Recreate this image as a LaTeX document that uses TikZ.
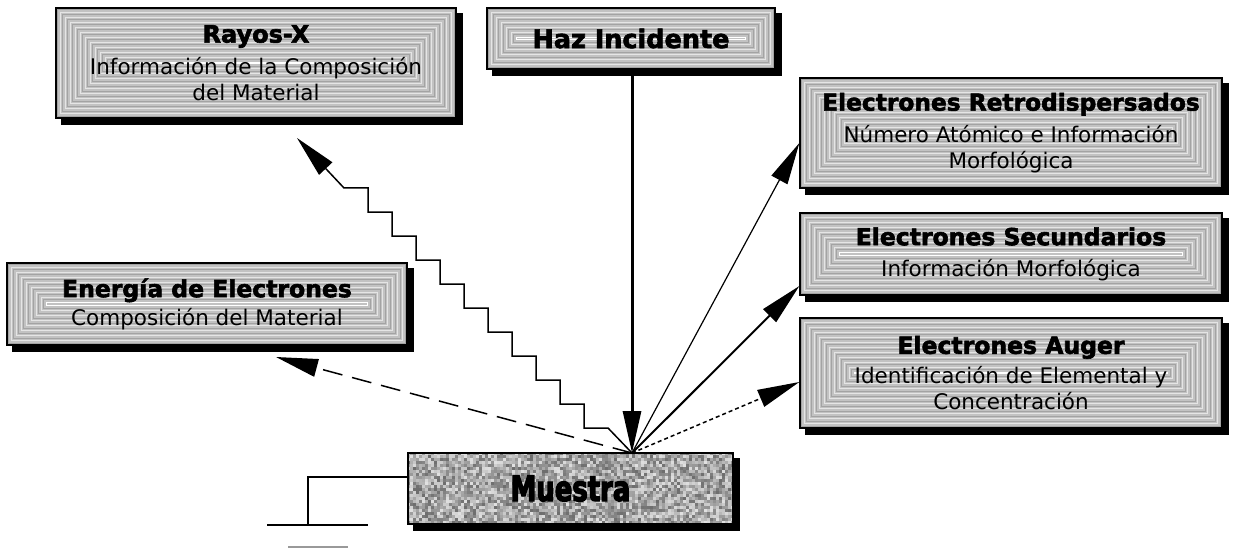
\documentclass[tikz,border=0pt]{standalone}
\usepackage{fontspec}
\setmainfont{DejaVu Sans}
\newfontfamily\ttlfont{DejaVu Sans}[BoldFeatures={FakeBold=2.5}]
\newfontfamily\mfont{DejaVu Sans}[BoldFeatures={FakeStretch=0.74,FakeBold=3.5}]
\usetikzlibrary{arrows.meta,calc}
\pgfdeclarelayer{background}
\pgfsetlayers{background,main}

% heading line inside a panel: size, text
\newcommand\ttl[2]{{\ttlfont\bfseries\fontsize{#1}{#1}\selectfont #2}}
\newcommand\bdy{\fontsize{21.5}{26}\selectfont}

% drop shadow + concentric striped frame behind a panel node
% #1 node, #2 number of rings, #3 ring spacing
\newcommand\stripes[3]{%
  \begin{pgfonlayer}{background}
    \fill[black] ([shift={(6,6)}]#1.south west) rectangle ([shift={(6,6)}]#1.north east);
    \fill[black!24] (#1.south west) rectangle (#1.north east);
    \foreach \i in {1,...,#2}{
      \pgfmathtruncatemacro\k{ifthenelse(\i==#2,0,ifthenelse(mod(\i,2)==0,10,36))}
      \draw[black!\k, line width=1.2pt]
        ([shift={(\i*#3,-\i*#3)}]#1.south west) rectangle ([shift={(-\i*#3,\i*#3)}]#1.north east);
    }
  \end{pgfonlayer}}

\tikzset{
  panel/.style={draw=black, line width=1.3pt, inner sep=0pt, align=center, font=\bdy},
  ray/.style={-{Triangle[length=42pt,width=18pt]}, line width=1.5pt},
  wire/.style={line width=1.5pt},
}

\begin{document}
\begin{tikzpicture}[x=1pt,y=-1pt]
\useasboundingbox (0,0) rectangle (1233,548);

% panels
\node[panel, minimum width=400pt, minimum height=110pt] (rayos) at (256,63)
  {\ttl{24}{Rayos-X}\\[6pt]Información de la Composición\\del Material};
\node[panel, minimum width=288pt, minimum height=61pt] (haz) at (631,38.5)
  {\ttl{25.5}{Haz Incidente}};
\node[panel, minimum width=422pt, minimum height=110pt] (retro) at (1011,133)
  {\ttl{23.3}{Electrones Retrodispersados}\\[6pt]Número Atómico e Información\\Morfológica};
\node[panel, minimum width=422pt, minimum height=82pt] (sec) at (1011,254)
  {\ttl{23.5}{Electrones Secundarios}\\[5pt]Información Morfológica};
\node[panel, minimum width=422pt, minimum height=110pt] (auger) at (1011,373)
  {\ttl{23.5}{Electrones Auger}\\[4pt]Identificación de Elemental y\\Concentración};
\node[panel, minimum width=400pt, minimum height=82pt] (energia) at (207,304)
  {\ttl{23.5}{Energía de Electrones}\\[2pt]Composición del Material};
\node[draw=black, line width=1.5pt, minimum width=325pt, minimum height=71pt, inner sep=0pt] (muestra) at (570.5,488.5)
  {{\mfont\bfseries\fontsize{35}{35}\selectfont Muestra}};

\stripes{rayos}{22}{2.5}
\stripes{haz}{12}{2.5}
\stripes{retro}{22}{2.5}
\stripes{sec}{16}{2.5}
\stripes{auger}{22}{2.5}
\stripes{energia}{16}{2.5}

% granular sample block
\begin{pgfonlayer}{background}
  \fill[black] ([shift={(6,6)}]muestra.south west) rectangle ([shift={(6,6)}]muestra.north east);
  \begin{scope}
    \clip (muestra.south west) rectangle (muestra.north east);
    \pgfmathsetseed{42}
    \foreach \cx in {0,...,108}{
      \foreach \cy in {0,...,23}{
        \pgfmathtruncatemacro\k{12+int(46*rnd)}
        \fill[black!\k] ([shift={(\cx*3,\cy*3)}]muestra.north west) rectangle ++(3.1,3.1);
      }}
  \end{scope}
\end{pgfonlayer}

% impact point and free arrow ends
\coordinate (hit) at (632,453);
\coordinate (xtip) at (297,138);
\coordinate (etip) at (276,357);

% incident beam
\draw[ray, line width=3pt] (haz.south -| hit) -- (hit);
% emitted signals
\draw[ray, line width=1.2pt] (hit) -- ([yshift=-10pt]retro.west);
\draw[ray, line width=2pt] (hit) -- ([yshift=-32pt]sec.west);
\draw[ray, dash pattern=on 4pt off 3pt] (hit) -- ([yshift=-9pt]auger.west);
\draw[ray, dash pattern=on 20pt off 10pt] (hit) -- (etip);
\draw[ray] (hit) -- ++(-24,-25)
  \foreach \s in {1,...,10}{ -- ++(-24,0) -- ++(0,-24) } -- ++(-24,0) -- (xtip);

% ground connection
\coordinate (gnd) at (308,525);
\coordinate (g1) at (267,525);
\coordinate (g2) at (368,525);
\coordinate (g3) at (288,547);
\coordinate (g4) at (348,547);
\draw[wire] ([yshift=11.5pt]muestra.west) -| (gnd);
\draw[wire] (g1) -- (g2);
\draw[line width=2pt, black!40] (g3) -- (g4);
\end{tikzpicture}
\end{document}
